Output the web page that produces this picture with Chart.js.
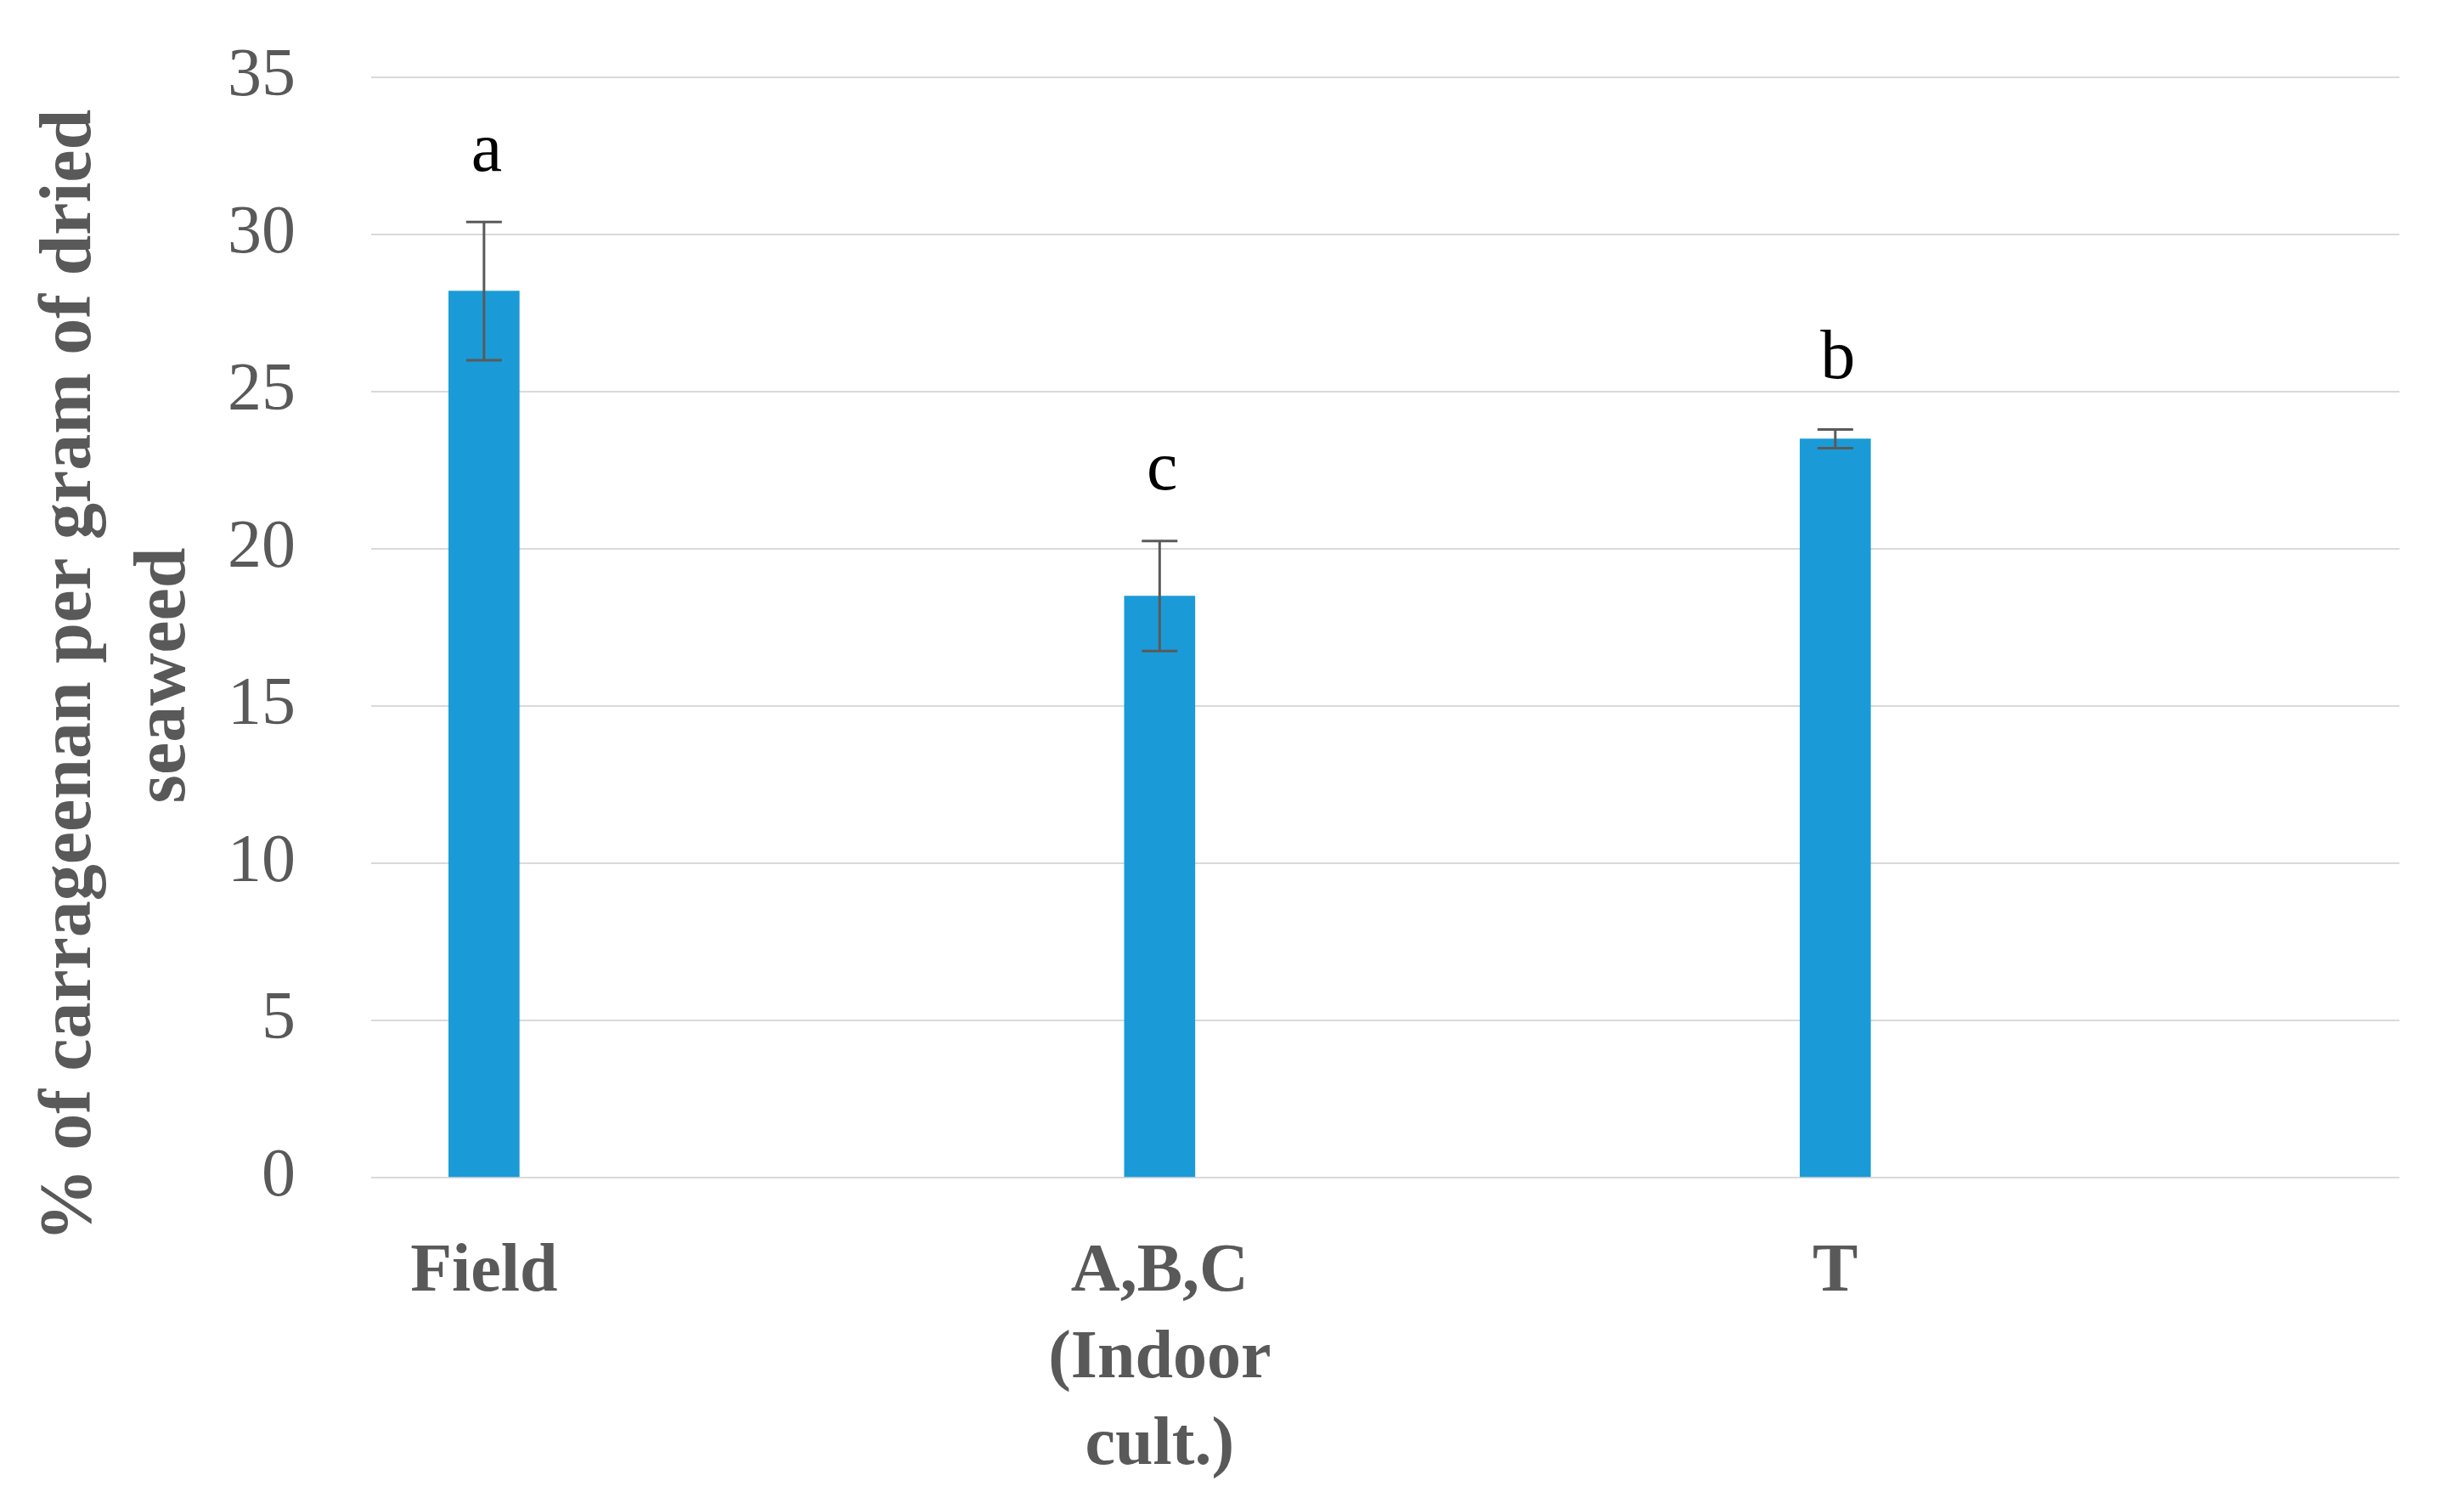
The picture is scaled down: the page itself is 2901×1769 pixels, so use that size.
<!DOCTYPE html>
<html>
<head>
<meta charset="utf-8">
<script src="https://cdn.jsdelivr.net/npm/chart.js@4.4.1/dist/chart.umd.min.js"></script>
<style>
  html, body { margin: 0; padding: 0; background: #fff; }
  #wrap { width: 2901px; height: 1769px; position: relative; }
</style>
</head>
<body>
<div id="wrap"><canvas id="chart"></canvas></div>
<script>
// data
const categories = ['Field', ['A,B,C', '(Indoor', 'cult.)'], 'T'];
const positions = [0, 1, 2];
const means = [28.2, 18.5, 23.5];
const errors = [2.2, 1.75, 0.3];
const letters = ['a', 'c', 'b'];
const yTitle = ['% of carrageenan per gram of dried', 'seaweed'];

const SERIF = '"Liberation Serif", "Times New Roman", serif';
const GREY = '#595959';

// error bars + significance letters
const errorBars = {
  id: 'errorBars',
  afterDatasetsDraw(chart) {
    const { ctx, scales: { y } } = chart;
    const meta = chart.getDatasetMeta(0);
    ctx.save();
    meta.data.forEach((bar, i) => {
      const x = bar.x;
      const top = y.getPixelForValue(means[i] + errors[i]);
      const bot = y.getPixelForValue(means[i] - errors[i]);
      ctx.strokeStyle = '#5a5a5a';
      ctx.lineWidth = 3;
      ctx.beginPath();
      ctx.moveTo(x, top); ctx.lineTo(x, bot);
      ctx.moveTo(x - 21, top); ctx.lineTo(x + 21, top);
      ctx.moveTo(x - 21, bot); ctx.lineTo(x + 21, bot);
      ctx.stroke();

      ctx.fillStyle = '#000';
      ctx.font = '82px ' + SERIF;
      ctx.textAlign = 'center';
      ctx.textBaseline = 'middle';
      ctx.fillText(letters[i], x + 3, top - 82);
    });
    ctx.restore();
  }
};

// two-line rotated y axis title
const axisTitle = {
  id: 'axisTitle',
  afterDraw(chart) {
    const { ctx } = chart;
    ctx.save();
    ctx.fillStyle = GREY;
    ctx.font = 'bold 86px ' + SERIF;
    ctx.textAlign = 'center';
    ctx.textBaseline = 'middle';
    yTitle.forEach((line, i) => {
      ctx.save();
      ctx.translate(84 + i * 111, 795);
      ctx.rotate(-Math.PI / 2);
      ctx.fillText(line, 0, 0);
      ctx.restore();
    });
    ctx.restore();
  }
};

new Chart(document.getElementById('chart'), {
  type: 'bar',
  data: {
    datasets: [{
      data: positions.map((p, i) => ({ x: p, y: means[i] })),
      backgroundColor: '#1a9bd7',
      barThickness: 83
    }]
  },
  options: {
    responsive: true,
    maintainAspectRatio: false,
    animation: false,
    layout: { padding: { top: 91, right: 76, left: 0, bottom: 0 } },
    plugins: {
      legend: { display: false },
      tooltip: { enabled: false }
    },
    scales: {
      x: {
        type: 'linear',
        offset: false,
        min: -0.167,
        max: 2.835,
        afterBuildTicks: scale => { scale.ticks = positions.map(v => ({ value: v })); },
        afterFit: scale => { scale.height = 383; },
        grid: { display: false, drawTicks: false },
        border: { display: false },
        ticks: {
          color: GREY,
          font: { family: SERIF, size: 80, weight: 'bold', lineHeight: 1.27 },
          padding: 62,
          maxRotation: 0,
          autoSkip: false,
          callback: v => categories[v]
        }
      },
      y: {
        min: 0,
        max: 35,
        afterFit: scale => { scale.width = 437; },
        // invisible tick marks give the gap between labels and plot
        grid: { color: '#d9d9d9', lineWidth: 2, tickLength: 89, tickColor: 'rgba(0,0,0,0)' },
        border: { display: false },
        ticks: {
          stepSize: 5,
          color: GREY,
          font: { family: SERIF, size: 80 },
          padding: 0
        }
      }
    }
  },
  plugins: [errorBars, axisTitle]
});
</script>
</body>
</html>
